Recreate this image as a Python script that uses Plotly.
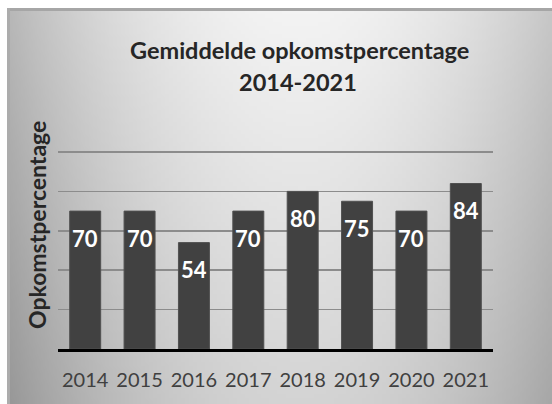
import base64, struct, zlib
import plotly.graph_objects as go

years = ["2014", "2015", "2016", "2017", "2018", "2019", "2020", "2021"]
turnout = [70, 70, 54, 70, 80, 75, 70, 84]
title_line1 = "Gemiddelde opkomstpercentage"
title_line2 = "2014-2021"
y_title = "Opkomstpercentage"

W, H = 552, 404
FONT = "Lato"

# ---- background gradient image (grayscale PNG) ----
def make_png(w, h, fn):
    rows = []
    for j in range(h):
        row = bytearray([0])
        for i in range(w):
            row.append(max(0, min(255, int(fn(i, j)))))
        rows.append(bytes(row))
    raw = b"".join(rows)
    def chunk(t, d):
        c = struct.pack(">I", len(d)) + t + d
        return c + struct.pack(">I", zlib.crc32(t + d) & 0xffffffff)
    png = b"\x89PNG\r\n\x1a\n"
    png += chunk(b"IHDR", struct.pack(">IIBBBBB", w, h, 8, 0, 0, 0, 0))
    png += chunk(b"IDAT", zlib.compress(raw, 9))
    png += chunk(b"IEND", b"")
    return "data:image/png;base64," + base64.b64encode(png).decode()

gw, gh = 136, 99
x0px, y0px = 7, 8
def shade(i, j):
    x = x0px + (i + 0.5) * (W - x0px) / gw
    y = y0px + (j + 0.5) * (H - y0px) / gh
    dx = (x - 300) / 250.0
    dy = (y - 30) / 370.0
    return 242 - 44 * dx * dx - 30 * dy

bg = make_png(gw, gh, shade)

fig = go.Figure()
fig.add_trace(go.Bar(
    x=years, y=turnout,
    marker=dict(color="#414141", line=dict(color="#505050", width=1)),
    hoverinfo="skip",
))

annotations = []
for i, v in enumerate(turnout):
    annotations.append(dict(
        x=i, y=v, xref="x", yref="y", text=str(v), showarrow=False,
        yshift=-27, yanchor="middle",
        font=dict(family=FONT, size=22, color="white", weight="bold"),
    ))
annotations.append(dict(
    x=299 / W, y=1 - 50 / H, xref="paper", yref="paper", text=title_line1,
    showarrow=False, xanchor="center", yanchor="middle",
    font=dict(family=FONT, size=23.5, color="#262626", weight="bold"),
))
annotations.append(dict(
    x=298 / W, y=1 - 82 / H, xref="paper", yref="paper", text=title_line2,
    showarrow=False, xanchor="center", yanchor="middle",
    font=dict(family=FONT, size=23.5, color="#262626", weight="bold"),
))
annotations.append(dict(
    x=37 / W, y=1 - 225 / H, xref="paper", yref="paper", text=y_title,
    showarrow=False, textangle=-90, xanchor="center", yanchor="middle",
    font=dict(family=FONT, size=23, color="#262626", weight="bold"),
))

shapes = [
    dict(type="rect", xref="paper", yref="paper", x0=x0px / W, x1=1,
         y0=1 - 11 / H, y1=1 - y0px / H, fillcolor="#a6a6a6", line=dict(width=0), layer="below"),
    dict(type="rect", xref="paper", yref="paper", x0=x0px / W, x1=10 / W,
         y0=0, y1=1 - y0px / H, fillcolor="#acacac", line=dict(width=0), layer="below"),
]

fig.update_layout(
    width=W, height=H,
    margin=dict(l=0, r=0, t=0, b=0),
    paper_bgcolor="white", plot_bgcolor="rgba(0,0,0,0)",
    showlegend=False,
    bargap=0.43,
    images=[dict(source=bg, xref="paper", yref="paper", x=x0px / W, y=1 - y0px / H,
                 sizex=(W - x0px) / W, sizey=(H - y0px) / H, sizing="stretch",
                 xanchor="left", yanchor="top", layer="below")],
    annotations=annotations,
    shapes=shapes,
    xaxis=dict(
        type="category", domain=[58 / W, 493 / W], range=[-0.5, 7.5],
        showgrid=False, showline=True, linecolor="black", linewidth=3,
        ticks="", tickfont=dict(family=FONT, size=20, color="#404040"),
        ticklabelstandoff=11, fixedrange=True,
    ),
    yaxis=dict(
        domain=[55 / H, (H - 150.03) / H], range=[0, 101], dtick=20,
        showgrid=True, gridcolor="#8c8c8c", gridwidth=1.5,
        zeroline=False, showticklabels=False, ticks="", fixedrange=True,
    ),
)

fig.write_html(
    "out.html",
    config={"displayModeBar": False, "staticPlot": True},
    post_script="document.body.style.margin='0';document.body.style.overflow='hidden';",
)
